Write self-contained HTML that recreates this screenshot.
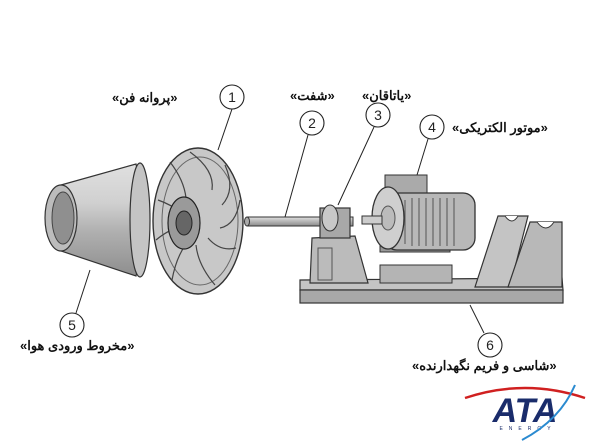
<!DOCTYPE html>
<html><head><meta charset="utf-8"><style>
body{margin:0;background:#fff;width:600px;height:448px;overflow:hidden}
svg{display:block}
text{font-family:"Liberation Sans","Noto Sans CJK SC",sans-serif}
.lab{font-size:13px;font-weight:bold;fill:#111}
.num{font-size:14px;fill:#222;text-anchor:middle}
</style></head><body>
<svg width="600" height="448" viewBox="0 0 600 448">
<defs>
<linearGradient id="cone" x1="0" y1="0" x2="0" y2="1">
<stop offset="0" stop-color="#e0e0e0"/><stop offset=".35" stop-color="#d0d0d0"/><stop offset=".6" stop-color="#b0b0b0"/><stop offset="1" stop-color="#8e8e8e"/></linearGradient>
<linearGradient id="met" x1="0" y1="0" x2="0" y2="1">
<stop offset="0" stop-color="#e0e0e0"/><stop offset="1" stop-color="#8a8a8a"/></linearGradient>
</defs>
<!-- cone -->
<path d="M61 185 L136 164 Q150 220 136 276 L61 251 Z" fill="url(#cone)" stroke="#333" stroke-width="1.2"/>
<ellipse cx="140" cy="220" rx="10" ry="57" fill="#c4c4c4" stroke="#333" stroke-width="1.2"/>
<ellipse cx="61" cy="218" rx="16" ry="33" fill="#bcbcbc" stroke="#333" stroke-width="1.2"/>
<ellipse cx="63" cy="218" rx="11" ry="26" fill="#8f8f8f" stroke="#444"/>
<!-- fan -->
<ellipse cx="198" cy="221" rx="45" ry="73" fill="#c8c8c8" stroke="#333" stroke-width="1.4"/>
<ellipse cx="200" cy="221" rx="38" ry="64" fill="none" stroke="#666"/>
<g stroke="#444" stroke-width="1.2" fill="none">
<path d="M190 152 Q215 170 212 190"/><path d="M225 165 Q236 190 222 205"/><path d="M240 200 Q236 225 220 228"/>
<path d="M236 248 Q220 252 208 238"/><path d="M215 285 Q198 265 196 245"/><path d="M172 280 Q176 258 186 244"/>
<path d="M156 240 Q168 230 178 228"/><path d="M158 200 Q172 205 180 212"/><path d="M170 162 Q184 180 186 198"/>
</g>
<ellipse cx="184" cy="223" rx="16" ry="26" fill="#9a9a9a" stroke="#222" stroke-width="1.2"/>
<ellipse cx="184" cy="223" rx="8" ry="12" fill="#666" stroke="#222"/>
<!-- shaft -->
<rect x="247" y="217" width="106" height="9" fill="url(#met)" stroke="#333"/>
<ellipse cx="247" cy="221.5" rx="2.5" ry="4.5" fill="#aaa" stroke="#333"/>
<!-- frame base -->
<path d="M300 280 L562 278 L563 290 L300 290 Z" fill="#c4c4c4" stroke="#333" stroke-width="1.2"/>
<rect x="300" y="290" width="263" height="13" fill="#a8a8a8" stroke="#333" stroke-width="1.2"/>
<!-- bearing pedestal -->
<path d="M310 283 L312 238 L355 236 L368 283 Z" fill="#bbb" stroke="#333" stroke-width="1.2"/>
<rect x="318" y="248" width="14" height="32" fill="none" stroke="#555"/>
<!-- middle plate -->
<rect x="380" y="265" width="72" height="18" fill="#b4b4b4" stroke="#333"/>
<!-- right stand -->
<path d="M475 287 L498 216 L528 216 L510 287 Z" fill="#c4c4c4" stroke="#333" stroke-width="1.2"/>
<path d="M508 287 L530 222 L562 222 L562 287 Z" fill="#b8b8b8" stroke="#333" stroke-width="1.2"/>
<path d="M505 216 Q512 226 518 216 M537 222 Q546 234 554 222" stroke="#333" fill="#fff"/>
<!-- bearing -->
<rect x="320" y="208" width="30" height="30" fill="#a8a8a8" stroke="#333" stroke-width="1.2"/>
<ellipse cx="330" cy="218" rx="8" ry="13" fill="#c8c8c8" stroke="#333"/>
<!-- motor -->
<rect x="385" y="175" width="42" height="18" fill="#aaa" stroke="#333"/>
<rect x="380" y="238" width="70" height="14" fill="#999" stroke="#333"/>
<rect x="385" y="193" width="90" height="57" rx="12" fill="#b8b8b8" stroke="#333" stroke-width="1.3"/>
<g stroke="#555"><line x1="405" y1="200" x2="405" y2="244"/><line x1="412" y1="198" x2="412" y2="246"/><line x1="419" y1="198" x2="419" y2="246"/><line x1="426" y1="198" x2="426" y2="246"/><line x1="433" y1="198" x2="433" y2="246"/><line x1="440" y1="198" x2="440" y2="246"/><line x1="447" y1="198" x2="447" y2="246"/><line x1="454" y1="198" x2="454" y2="246"/></g>
<ellipse cx="388" cy="218" rx="16" ry="31" fill="#cfcfcf" stroke="#333" stroke-width="1.3"/>
<ellipse cx="388" cy="218" rx="7" ry="12" fill="#bbb" stroke="#555"/>
<rect x="362" y="216" width="20" height="8" fill="#ccc" stroke="#333"/>
<!-- leader lines -->
<g stroke="#222" stroke-width="1" fill="none">
<line x1="232" y1="109" x2="218" y2="150"/>
<line x1="308" y1="135" x2="285" y2="217"/>
<line x1="374" y1="127" x2="338" y2="205"/>
<line x1="428" y1="139" x2="417" y2="175"/>
<line x1="76" y1="313" x2="90" y2="270"/>
<line x1="484" y1="333" x2="470" y2="305"/>
</g>
<g fill="#fff" stroke="#222" stroke-width="1.1">
<circle cx="232" cy="97" r="12"/><circle cx="312" cy="123" r="12"/><circle cx="378" cy="115" r="12"/>
<circle cx="432" cy="127" r="12"/><circle cx="72" cy="325" r="12"/><circle cx="490" cy="345" r="12"/>
</g>
<text class="num" x="232" y="102">1</text><text class="num" x="312" y="128">2</text><text class="num" x="378" y="120">3</text>
<text class="num" x="432" y="132">4</text><text class="num" x="72" y="330">5</text><text class="num" x="490" y="350">6</text>
<text class="lab" x="112" y="102">«پروانه فن»</text>
<text class="lab" x="290" y="100">«شفت»</text>
<text class="lab" x="362" y="100">«یاتاقان»</text>
<text class="lab" x="452" y="132">«موتور الکتریکی»</text>
<text class="lab" x="20" y="350">«مخروط ورودی هوا»</text>
<text class="lab" x="412" y="370">«شاسی و فریم نگهدارنده»</text>
<!-- logo -->
<path d="M465 398 Q525 378 585 398" stroke="#d02020" stroke-width="2.5" fill="none"/>
<text x="525" y="422" text-anchor="middle" style="font-size:34px;font-weight:bold;font-style:italic;fill:#1a2c6b">ATA</text>
<text x="528" y="430" text-anchor="middle" style="font-size:5px;letter-spacing:6px;fill:#1a2c6b">ENERGY</text>
<path d="M575 385 Q560 420 522 440" stroke="#2a8ad0" stroke-width="2" fill="none"/>
</svg>
</body></html>
